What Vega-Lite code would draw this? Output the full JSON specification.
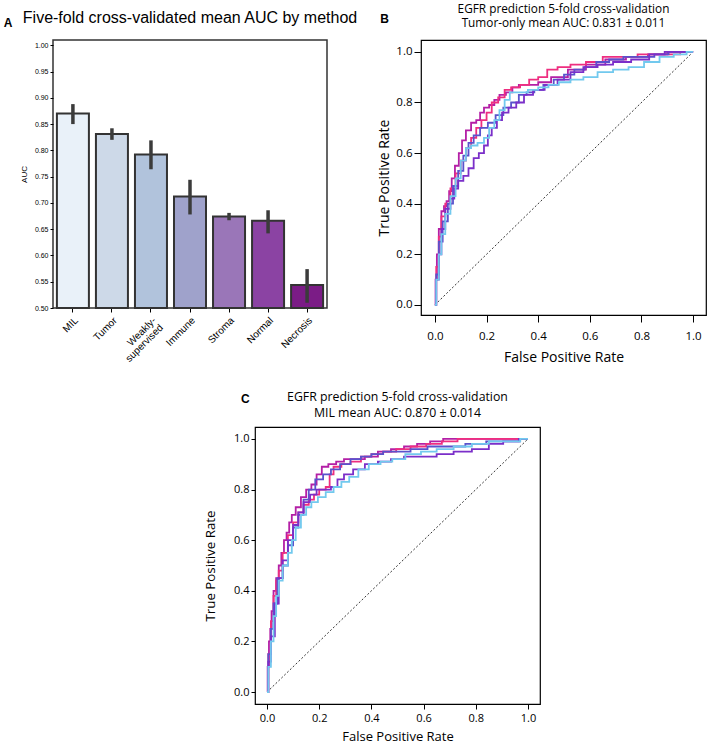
{
"$schema": "https://vega.github.io/schema/vega-lite/v6.json",
"padding": {"left": 3, "top": 3, "right": 0, "bottom": 0},
"background": "white",
"config": {
  "view": {"stroke": "#000", "strokeWidth": 1.2},
  "axis": {"grid": false, "domain": false, "tickColor": "#000", "labelColor": "#000", "titleColor": "#000", "titleFontWeight": "normal"},
  "title": {"color": "#000"}
},
"resolve": {"scale": {"x": "independent", "y": "independent", "color": "independent"}},
"datasets": {
  "bars": [
    {"method": "MIL", "auc": 0.870, "lo": 0.850, "hi": 0.888},
    {"method": "Tumor", "auc": 0.831, "lo": 0.820, "hi": 0.842},
    {"method": "Weakly-supervised", "auc": 0.792, "lo": 0.764, "hi": 0.819},
    {"method": "Immune", "auc": 0.712, "lo": 0.678, "hi": 0.744},
    {"method": "Stroma", "auc": 0.674, "lo": 0.667, "hi": 0.681},
    {"method": "Normal", "auc": 0.666, "lo": 0.642, "hi": 0.686},
    {"method": "Necrosis", "auc": 0.544, "lo": 0.510, "hi": 0.574}
  ],
  "diag": [{"x": 0, "y": 0}, {"x": 1, "y": 1}],
  "rocB": [
    {"f":"1","x":0,"y":0},{"f":"1","x":0.005,"y":0.1},{"f":"1","x":0.01,"y":0.2},{"f":"1","x":0.02,"y":0.3},{"f":"1","x":0.03,"y":0.37},{"f":"1","x":0.04,"y":0.39},{"f":"1","x":0.05,"y":0.41},{"f":"1","x":0.06,"y":0.45},{"f":"1","x":0.07,"y":0.5},{"f":"1","x":0.085,"y":0.55},{"f":"1","x":0.1,"y":0.6},{"f":"1","x":0.11,"y":0.65},{"f":"1","x":0.13,"y":0.69},{"f":"1","x":0.15,"y":0.72},{"f":"1","x":0.17,"y":0.73},{"f":"1","x":0.18,"y":0.76},{"f":"1","x":0.2,"y":0.78},{"f":"1","x":0.22,"y":0.79},{"f":"1","x":0.24,"y":0.81},{"f":"1","x":0.26,"y":0.83},{"f":"1","x":0.29,"y":0.84},{"f":"1","x":0.31,"y":0.86},{"f":"1","x":0.34,"y":0.87},{"f":"1","x":0.38,"y":0.87},{"f":"1","x":0.42,"y":0.88},{"f":"1","x":0.48,"y":0.9},{"f":"1","x":0.55,"y":0.93},{"f":"1","x":0.62,"y":0.95},{"f":"1","x":0.7,"y":0.97},{"f":"1","x":0.78,"y":0.98},{"f":"1","x":0.87,"y":0.99},{"f":"1","x":0.93,"y":1.0},{"f":"1","x":1,"y":1},
    {"f":"2","x":0,"y":0},{"f":"2","x":0.01,"y":0.15},{"f":"2","x":0.02,"y":0.27},{"f":"2","x":0.03,"y":0.35},{"f":"2","x":0.05,"y":0.4},{"f":"2","x":0.07,"y":0.46},{"f":"2","x":0.09,"y":0.52},{"f":"2","x":0.11,"y":0.57},{"f":"2","x":0.13,"y":0.62},{"f":"2","x":0.15,"y":0.66},{"f":"2","x":0.17,"y":0.7},{"f":"2","x":0.19,"y":0.73},{"f":"2","x":0.21,"y":0.76},{"f":"2","x":0.23,"y":0.8},{"f":"2","x":0.26,"y":0.82},{"f":"2","x":0.28,"y":0.85},{"f":"2","x":0.31,"y":0.86},{"f":"2","x":0.35,"y":0.87},{"f":"2","x":0.38,"y":0.89},{"f":"2","x":0.42,"y":0.9},{"f":"2","x":0.45,"y":0.93},{"f":"2","x":0.5,"y":0.94},{"f":"2","x":0.55,"y":0.95},{"f":"2","x":0.62,"y":0.96},{"f":"2","x":0.68,"y":0.98},{"f":"2","x":0.75,"y":0.98},{"f":"2","x":0.82,"y":0.99},{"f":"2","x":0.9,"y":0.99},{"f":"2","x":1,"y":1},
    {"f":"3","x":0,"y":0},{"f":"3","x":0.01,"y":0.12},{"f":"3","x":0.02,"y":0.25},{"f":"3","x":0.04,"y":0.33},{"f":"3","x":0.06,"y":0.4},{"f":"3","x":0.08,"y":0.47},{"f":"3","x":0.1,"y":0.53},{"f":"3","x":0.12,"y":0.59},{"f":"3","x":0.14,"y":0.64},{"f":"3","x":0.16,"y":0.67},{"f":"3","x":0.19,"y":0.7},{"f":"3","x":0.22,"y":0.72},{"f":"3","x":0.25,"y":0.75},{"f":"3","x":0.28,"y":0.78},{"f":"3","x":0.31,"y":0.8},{"f":"3","x":0.34,"y":0.83},{"f":"3","x":0.37,"y":0.84},{"f":"3","x":0.4,"y":0.85},{"f":"3","x":0.44,"y":0.87},{"f":"3","x":0.48,"y":0.89},{"f":"3","x":0.52,"y":0.91},{"f":"3","x":0.56,"y":0.93},{"f":"3","x":0.6,"y":0.94},{"f":"3","x":0.65,"y":0.96},{"f":"3","x":0.7,"y":0.97},{"f":"3","x":0.76,"y":0.98},{"f":"3","x":0.82,"y":0.98},{"f":"3","x":0.88,"y":0.99},{"f":"3","x":0.93,"y":1.0},{"f":"3","x":1,"y":1},
    {"f":"4","x":0,"y":0},{"f":"4","x":0.01,"y":0.1},{"f":"4","x":0.02,"y":0.2},{"f":"4","x":0.03,"y":0.3},{"f":"4","x":0.05,"y":0.38},{"f":"4","x":0.07,"y":0.42},{"f":"4","x":0.08,"y":0.46},{"f":"4","x":0.1,"y":0.49},{"f":"4","x":0.12,"y":0.51},{"f":"4","x":0.14,"y":0.54},{"f":"4","x":0.16,"y":0.58},{"f":"4","x":0.18,"y":0.6},{"f":"4","x":0.2,"y":0.63},{"f":"4","x":0.21,"y":0.67},{"f":"4","x":0.23,"y":0.7},{"f":"4","x":0.25,"y":0.73},{"f":"4","x":0.27,"y":0.76},{"f":"4","x":0.3,"y":0.78},{"f":"4","x":0.33,"y":0.8},{"f":"4","x":0.36,"y":0.83},{"f":"4","x":0.4,"y":0.85},{"f":"4","x":0.45,"y":0.87},{"f":"4","x":0.5,"y":0.89},{"f":"4","x":0.55,"y":0.92},{"f":"4","x":0.6,"y":0.94},{"f":"4","x":0.66,"y":0.95},{"f":"4","x":0.72,"y":0.96},{"f":"4","x":0.8,"y":0.97},{"f":"4","x":0.86,"y":0.99},{"f":"4","x":0.92,"y":1.0},{"f":"4","x":1,"y":1},
    {"f":"5","x":0,"y":0},{"f":"5","x":0.01,"y":0.1},{"f":"5","x":0.02,"y":0.2},{"f":"5","x":0.03,"y":0.28},{"f":"5","x":0.05,"y":0.36},{"f":"5","x":0.07,"y":0.43},{"f":"5","x":0.09,"y":0.5},{"f":"5","x":0.11,"y":0.57},{"f":"5","x":0.13,"y":0.62},{"f":"5","x":0.15,"y":0.63},{"f":"5","x":0.18,"y":0.64},{"f":"5","x":0.2,"y":0.66},{"f":"5","x":0.22,"y":0.7},{"f":"5","x":0.24,"y":0.73},{"f":"5","x":0.26,"y":0.77},{"f":"5","x":0.28,"y":0.81},{"f":"5","x":0.3,"y":0.84},{"f":"5","x":0.34,"y":0.84},{"f":"5","x":0.38,"y":0.85},{"f":"5","x":0.42,"y":0.86},{"f":"5","x":0.46,"y":0.87},{"f":"5","x":0.5,"y":0.88},{"f":"5","x":0.55,"y":0.89},{"f":"5","x":0.6,"y":0.9},{"f":"5","x":0.66,"y":0.92},{"f":"5","x":0.72,"y":0.93},{"f":"5","x":0.78,"y":0.94},{"f":"5","x":0.84,"y":0.96},{"f":"5","x":0.9,"y":0.98},{"f":"5","x":0.95,"y":0.99},{"f":"5","x":1,"y":1}
  ],
  "rocC": [
    {"f":"1","x":0,"y":0},{"f":"1","x":0.005,"y":0.1},{"f":"1","x":0.01,"y":0.2},{"f":"1","x":0.015,"y":0.25},{"f":"1","x":0.02,"y":0.32},{"f":"1","x":0.03,"y":0.4},{"f":"1","x":0.04,"y":0.45},{"f":"1","x":0.05,"y":0.5},{"f":"1","x":0.06,"y":0.55},{"f":"1","x":0.07,"y":0.6},{"f":"1","x":0.08,"y":0.63},{"f":"1","x":0.09,"y":0.67},{"f":"1","x":0.1,"y":0.7},{"f":"1","x":0.12,"y":0.73},{"f":"1","x":0.14,"y":0.77},{"f":"1","x":0.16,"y":0.8},{"f":"1","x":0.18,"y":0.82},{"f":"1","x":0.2,"y":0.86},{"f":"1","x":0.22,"y":0.89},{"f":"1","x":0.25,"y":0.9},{"f":"1","x":0.28,"y":0.91},{"f":"1","x":0.31,"y":0.92},{"f":"1","x":0.35,"y":0.92},{"f":"1","x":0.4,"y":0.93},{"f":"1","x":0.45,"y":0.95},{"f":"1","x":0.5,"y":0.96},{"f":"1","x":0.55,"y":0.97},{"f":"1","x":0.6,"y":0.98},{"f":"1","x":0.65,"y":0.99},{"f":"1","x":0.7,"y":1.0},{"f":"1","x":0.85,"y":1.0},{"f":"1","x":1,"y":1},
    {"f":"2","x":0,"y":0},{"f":"2","x":0.01,"y":0.15},{"f":"2","x":0.02,"y":0.28},{"f":"2","x":0.03,"y":0.38},{"f":"2","x":0.04,"y":0.44},{"f":"2","x":0.05,"y":0.48},{"f":"2","x":0.07,"y":0.55},{"f":"2","x":0.09,"y":0.62},{"f":"2","x":0.11,"y":0.67},{"f":"2","x":0.13,"y":0.71},{"f":"2","x":0.15,"y":0.74},{"f":"2","x":0.17,"y":0.76},{"f":"2","x":0.19,"y":0.78},{"f":"2","x":0.21,"y":0.8},{"f":"2","x":0.24,"y":0.81},{"f":"2","x":0.24,"y":0.86},{"f":"2","x":0.27,"y":0.89},{"f":"2","x":0.3,"y":0.9},{"f":"2","x":0.34,"y":0.91},{"f":"2","x":0.38,"y":0.93},{"f":"2","x":0.42,"y":0.94},{"f":"2","x":0.47,"y":0.95},{"f":"2","x":0.52,"y":0.96},{"f":"2","x":0.58,"y":0.97},{"f":"2","x":0.64,"y":0.98},{"f":"2","x":0.7,"y":0.99},{"f":"2","x":0.76,"y":1.0},{"f":"2","x":0.9,"y":1.0},{"f":"2","x":1,"y":1},
    {"f":"3","x":0,"y":0},{"f":"3","x":0.01,"y":0.15},{"f":"3","x":0.02,"y":0.25},{"f":"3","x":0.03,"y":0.35},{"f":"3","x":0.05,"y":0.45},{"f":"3","x":0.07,"y":0.5},{"f":"3","x":0.09,"y":0.58},{"f":"3","x":0.11,"y":0.65},{"f":"3","x":0.13,"y":0.7},{"f":"3","x":0.15,"y":0.76},{"f":"3","x":0.17,"y":0.8},{"f":"3","x":0.2,"y":0.84},{"f":"3","x":0.23,"y":0.86},{"f":"3","x":0.26,"y":0.88},{"f":"3","x":0.3,"y":0.9},{"f":"3","x":0.34,"y":0.92},{"f":"3","x":0.38,"y":0.93},{"f":"3","x":0.42,"y":0.94},{"f":"3","x":0.47,"y":0.95},{"f":"3","x":0.52,"y":0.95},{"f":"3","x":0.58,"y":0.96},{"f":"3","x":0.65,"y":0.97},{"f":"3","x":0.72,"y":0.97},{"f":"3","x":0.8,"y":0.98},{"f":"3","x":0.88,"y":0.99},{"f":"3","x":0.94,"y":0.99},{"f":"3","x":1,"y":1},
    {"f":"4","x":0,"y":0},{"f":"4","x":0.01,"y":0.12},{"f":"4","x":0.02,"y":0.22},{"f":"4","x":0.04,"y":0.35},{"f":"4","x":0.05,"y":0.45},{"f":"4","x":0.07,"y":0.52},{"f":"4","x":0.09,"y":0.6},{"f":"4","x":0.11,"y":0.66},{"f":"4","x":0.13,"y":0.71},{"f":"4","x":0.15,"y":0.75},{"f":"4","x":0.18,"y":0.78},{"f":"4","x":0.2,"y":0.8},{"f":"4","x":0.23,"y":0.8},{"f":"4","x":0.26,"y":0.81},{"f":"4","x":0.28,"y":0.84},{"f":"4","x":0.31,"y":0.86},{"f":"4","x":0.35,"y":0.88},{"f":"4","x":0.4,"y":0.9},{"f":"4","x":0.45,"y":0.91},{"f":"4","x":0.5,"y":0.92},{"f":"4","x":0.55,"y":0.93},{"f":"4","x":0.62,"y":0.93},{"f":"4","x":0.68,"y":0.94},{"f":"4","x":0.75,"y":0.95},{"f":"4","x":0.82,"y":0.96},{"f":"4","x":0.88,"y":0.98},{"f":"4","x":0.93,"y":0.99},{"f":"4","x":1,"y":1},
    {"f":"5","x":0,"y":0},{"f":"5","x":0.01,"y":0.1},{"f":"5","x":0.02,"y":0.2},{"f":"5","x":0.03,"y":0.3},{"f":"5","x":0.04,"y":0.38},{"f":"5","x":0.05,"y":0.44},{"f":"5","x":0.07,"y":0.5},{"f":"5","x":0.09,"y":0.55},{"f":"5","x":0.1,"y":0.6},{"f":"5","x":0.12,"y":0.65},{"f":"5","x":0.14,"y":0.7},{"f":"5","x":0.16,"y":0.73},{"f":"5","x":0.18,"y":0.75},{"f":"5","x":0.21,"y":0.77},{"f":"5","x":0.24,"y":0.79},{"f":"5","x":0.27,"y":0.81},{"f":"5","x":0.3,"y":0.83},{"f":"5","x":0.33,"y":0.85},{"f":"5","x":0.37,"y":0.88},{"f":"5","x":0.41,"y":0.9},{"f":"5","x":0.46,"y":0.91},{"f":"5","x":0.5,"y":0.92},{"f":"5","x":0.56,"y":0.94},{"f":"5","x":0.62,"y":0.95},{"f":"5","x":0.68,"y":0.96},{"f":"5","x":0.75,"y":0.97},{"f":"5","x":0.82,"y":0.98},{"f":"5","x":0.88,"y":0.99},{"f":"5","x":0.94,"y":0.99},{"f":"5","x":1,"y":1}
  ]
},
"spacing": 24,
"vconcat": [
  {
    "spacing": 18,
    "resolve": {"scale": {"x": "independent", "y": "independent", "color": "independent"}},
    "hconcat": [
      {
        "title": {"text": ["", "A"], "anchor": "start", "frame": "bounds", "font": "Liberation Sans", "fontSize": 12, "fontWeight": "bold", "lineHeight": 13, "dx": -16, "dy": 21, "offset": 0},
        "vconcat": [
          {
            "title": {"text": "Five-fold cross-validated mean AUC by method", "font": "Liberation Sans", "fontSize": 16, "fontWeight": "normal", "offset": 14},
            "width": 274, "height": 268,
            "data": {"name": "bars"},
            "view": {"stroke": "#333", "strokeWidth": 1.5},
            "encoding": {
              "x": {"field": "method", "type": "nominal", "sort": null,
                "scale": {"paddingInner": 0.18, "paddingOuter": 0.1},
                "axis": {"title": null, "labelAngle": -45, "labelFont": "Liberation Sans", "labelFontSize": 10, "tickSize": 4, "labelPadding": 3, "labelLineHeight": 10,
                  "labelExpr": "datum.value == 'Weakly-supervised' ? ['Weakly-', 'supervised'] : datum.label"}},
              "y": {"field": "auc", "type": "quantitative", "scale": {"domain": [0.5, 1.01], "nice": false, "zero": false},
                "axis": {"title": "AUC", "titleFont": "Liberation Sans", "titleFontSize": 8, "titlePadding": 6, "labelFont": "Liberation Sans", "labelFontSize": 7, "tickSize": 3, "labelPadding": 2, "format": ".2f", "labelOverlap": false, "values": [0.5, 0.55, 0.6, 0.65, 0.7, 0.75, 0.8, 0.85, 0.9, 0.95, 1.0]}}
            },
            "layer": [
              {
                "mark": {"type": "bar", "stroke": "#333", "strokeWidth": 2},
                "encoding": {
                  "y2": {"datum": 0.5},
                  "color": {"field": "method", "type": "nominal", "sort": null, "legend": null,
                    "scale": {"domain": ["MIL", "Tumor", "Weakly-supervised", "Immune", "Stroma", "Normal", "Necrosis"], "range": ["#e9f1f9", "#cdd9e8", "#b1c3dc", "#9fa2cb", "#9a76b8", "#8b43a3", "#7b1c86"]}}
                }
              },
              {
                "mark": {"type": "rule", "color": "#3b3b3b", "strokeWidth": 3.5},
                "encoding": {"y": {"field": "lo", "type": "quantitative"}, "y2": {"field": "hi"}}
              }
            ]
          }
        ]
      },
      {
        "title": {"text": "B", "anchor": "start", "frame": "bounds", "font": "Liberation Sans", "fontSize": 12, "fontWeight": "bold", "dx": 3, "dy": 22, "offset": 0},
        "vconcat": [
          {
            "title": {"text": ["EGFR prediction 5-fold cross-validation", "Tumor-only mean AUC: 0.831 ± 0.011"], "font": "Open Sans", "fontSize": 11.8, "fontWeight": "normal", "lineHeight": 14, "offset": 10},
            "width": 285, "height": 275,
            "encoding": {
              "x": {"field": "x", "type": "quantitative", "scale": {"domain": [-0.054, 1.05], "nice": false},
                "axis": {"title": "False Positive Rate", "titleFont": "Open Sans", "titleFontSize": 14, "titlePadding": 9, "labelFont": "Open Sans", "labelFontSize": 11.5, "tickSize": 7, "labelPadding": 8, "format": ".1f", "values": [0, 0.2, 0.4, 0.6, 0.8, 1.0]}},
              "y": {"field": "y", "type": "quantitative", "scale": {"domain": [-0.04, 1.047], "nice": false},
                "axis": {"title": "True Positive Rate", "titleFont": "Open Sans", "titleFontSize": 14, "titlePadding": 4, "labelFont": "Open Sans", "labelFontSize": 11.5, "tickSize": 7, "labelPadding": 2, "format": ".1f", "values": [0, 0.2, 0.4, 0.6, 0.8, 1.0]}}
            },
            "layer": [
              {
                "data": {"name": "diag"},
                "mark": {"type": "line", "color": "#000", "strokeWidth": 0.8, "strokeDash": [2, 2]},
                "encoding": {}
              },
              {
                "data": {"name": "rocB"},
                "mark": {"type": "line", "strokeWidth": 1.8, "interpolate": "step"},
                "encoding": {
                  "order": {"value": null},
                  "color": {"field": "f", "type": "nominal", "legend": null,
                    "scale": {"domain": ["1", "2", "3", "4", "5"], "range": ["#b41fa6", "#ee2e80", "#5a52cc", "#7b2fc9", "#72c9ee"]}}
                }
              }
            ]
          }
        ]
      }
    ]
  },
  {
    "spacing": 0,
    "resolve": {"scale": {"x": "independent", "y": "independent", "color": "independent"}},
    "hconcat": [
      {"width": 149, "height": 10, "data": {"values": [{}]}, "mark": {"type": "point", "opacity": 0}, "encoding": {}, "view": {"stroke": null}},
      {
        "title": {"text": "C", "anchor": "start", "frame": "bounds", "font": "Liberation Sans", "fontSize": 12, "fontWeight": "bold", "dx": 38, "dy": 16, "offset": 0},
        "vconcat": [
          {
            "title": {"text": ["EGFR prediction 5-fold cross-validation", "MIL mean AUC: 0.870 ± 0.014"], "font": "Open Sans", "fontSize": 12.3, "fontWeight": "normal", "lineHeight": 16, "offset": 8},
            "width": 285, "height": 277,
            "encoding": {
              "x": {"field": "x", "type": "quantitative", "scale": {"domain": [-0.046, 1.046], "nice": false},
                "axis": {"title": "False Positive Rate", "titleFont": "Open Sans", "titleFontSize": 13, "titlePadding": 7, "labelFont": "Open Sans", "labelFontSize": 11, "tickSize": 5, "labelPadding": 3, "format": ".1f", "values": [0, 0.2, 0.4, 0.6, 0.8, 1.0]}},
              "y": {"field": "y", "type": "quantitative", "scale": {"domain": [-0.047, 1.047], "nice": false},
                "axis": {"title": "True Positive Rate", "titleFont": "Open Sans", "titleFontSize": 13.3, "titlePadding": 16, "labelFont": "Open Sans", "labelFontSize": 11, "tickSize": 4, "labelPadding": 2, "format": ".1f", "values": [0, 0.2, 0.4, 0.6, 0.8, 1.0]}}
            },
            "layer": [
              {
                "data": {"name": "diag"},
                "mark": {"type": "line", "color": "#000", "strokeWidth": 0.8, "strokeDash": [2, 2]},
                "encoding": {}
              },
              {
                "data": {"name": "rocC"},
                "mark": {"type": "line", "strokeWidth": 1.8, "interpolate": "step"},
                "encoding": {
                  "order": {"value": null},
                  "color": {"field": "f", "type": "nominal", "legend": null,
                    "scale": {"domain": ["1", "2", "3", "4", "5"], "range": ["#b41fa6", "#ee2e80", "#5a52cc", "#7b2fc9", "#72c9ee"]}}
                }
              }
            ]
          }
        ]
      }
    ]
  }
]
}
